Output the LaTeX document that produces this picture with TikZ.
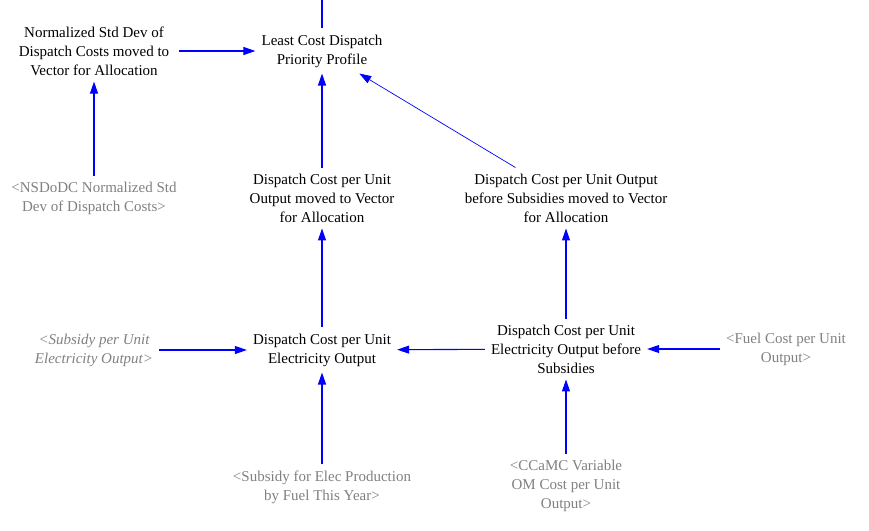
\documentclass[tikz,border=0pt]{standalone}
\usepackage{fontspec}
\setmainfont{Liberation Serif}
\usepackage{tikz}
\usetikzlibrary{arrows.meta,positioning}
\definecolor{ghost}{RGB}{128,128,128}

\begin{document}
\begin{tikzpicture}[x=1pt,y=-1pt,
	var/.style={align=center,inner sep=6pt,font=\fontsize{15}{19}\selectfont},
	shadow/.style={var,text=ghost},
	shadowit/.style={shadow,font=\fontsize{15}{19}\selectfont\itshape},
	pipe/.style={draw=blue,line width=1.1pt},
	link/.style={pipe,-{Triangle[length=12pt,width=8pt]}}]
	\useasboundingbox (0,0) rectangle (869,530);
	
	% top row
	\node[var] (lcd) at (322,51) {Least Cost Dispatch\\Priority Profile};
	\node[var,inner xsep=10pt] (nsd) at (94,51) {Normalized Std Dev of\\Dispatch Costs moved to\\Vector for Allocation};
	\coordinate (up) at (322,0);
	
	% vectors for allocation
	\node[shadow] (nsdodc) at (94,198) {<NSDoDC Normalized Std\\Dev of Dispatch Costs>};
	\node[var] (dcmv) at (322,198) {Dispatch Cost per Unit\\Output moved to Vector\\for Allocation};
	\node[var] (dcbsmv) at (566,198) {Dispatch Cost per Unit Output\\before Subsidies moved to Vector\\for Allocation};
	
	% dispatch costs
	\node[shadowit] (subunit) at (94,350) {<Subsidy per Unit\\Electricity Output>};
	\node[var] (dce) at (322,350) {Dispatch Cost per Unit\\Electricity Output};
	\node[var] (dcebs) at (566,349) {Dispatch Cost per Unit\\Electricity Output before\\Subsidies};
	\node[shadow] (fuel) at (786,349) {<Fuel Cost per Unit\\Output>};
	
	% bottom row
	\node[shadow] (subelec) at (322,487) {<Subsidy for Elec Production\\by Fuel This Year>};
	\node[shadow] (ccamc) at (566,486) {<CCaMC Variable\\OM Cost per Unit\\Output>};
	
	\draw[pipe] (lcd) -- (up);
	\draw[link] (nsd) -- (lcd);
	\draw[link] (nsdodc) -- (nsd);
	\draw[link] (dcmv) -- (lcd);
	\draw[link,line width=.7pt] (dcbsmv) -- (lcd);
	\draw[link] (dce) -- (dcmv);
	\draw[link] (dcebs) -- (dcbsmv);
	\draw[link] (dcebs) -- (dce);
	\draw[link] (fuel) -- (dcebs);
	\draw[link] (subunit) -- (dce);
	\draw[link] (subelec) -- (dce);
	\draw[link] (ccamc) -- (dcebs);
\end{tikzpicture}
\end{document}
